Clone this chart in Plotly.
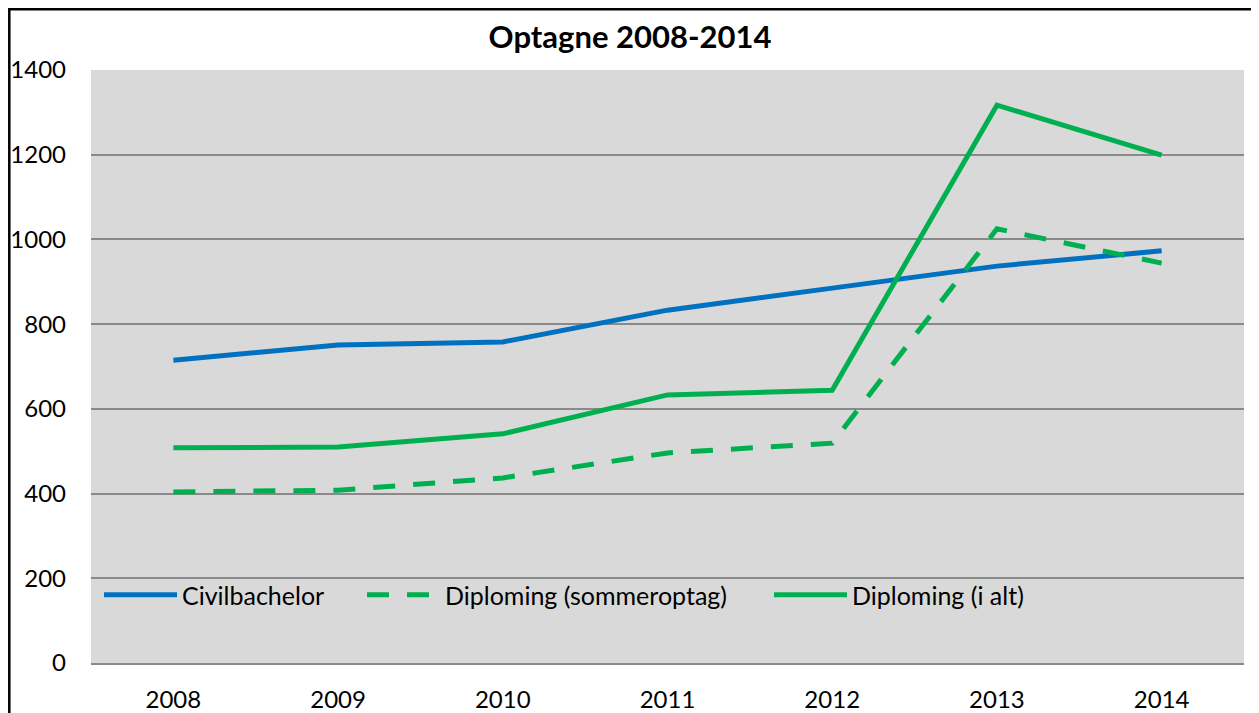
import plotly.graph_objects as go

years = ["2008", "2009", "2010", "2011", "2012", "2013", "2014"]
civilbachelor = [715, 751, 758, 833, 885, 937, 973]
diploming_sommer = [404, 408, 437, 496, 519, 1025, 944]
diploming_ialt = [508, 510, 541, 633, 644, 1317, 1199]
y_ticks = [0, 200, 400, 600, 800, 1000, 1200, 1400]

FONT = "Lato"
BLUE = "#0070C0"
GREEN = "#00B050"

# page offset (body margin)
OFF = 8
W, H = 1259 - OFF, 713 - OFF
# plot area in page pixels: left 91, right 1244, top 70, bottom 663
L = 91 - OFF
T = 70 - OFF
R = W - (1244 - OFF)
B = H - (663 - OFF)
pw, ph = W - L - R, H - T - B

def px_x(p):
    return (p - OFF - L) / pw

def px_y(p):
    return 1 - (p - OFF - T) / ph

fig = go.Figure()
fig.add_trace(go.Scatter(x=years, y=civilbachelor, name="Civilbachelor", mode="lines",
                         line=dict(color=BLUE, width=5), legend="legend"))
fig.add_trace(go.Scatter(x=years, y=diploming_sommer, name="Diploming (sommeroptag)", mode="lines",
                         line=dict(color=GREEN, width=5, dash="22px,18px"), legend="legend2"))
fig.add_trace(go.Scatter(x=years, y=diploming_ialt, name="Diploming (i alt)", mode="lines",
                         line=dict(color=GREEN, width=5), legend="legend3"))

def leg(sym_start):
    return dict(orientation="h", x=px_x(sym_start - 5), y=px_y(595), xanchor="left", yanchor="middle",
                bgcolor="rgba(0,0,0,0)", font=dict(family=FONT, size=25, color="black"),
                itemwidth=73)

fig.update_layout(
    width=W, height=H,
    margin=dict(l=L, r=R, t=T, b=B),
    paper_bgcolor="white",
    plot_bgcolor="#D9D9D9",
    font=dict(family=FONT, size=24, color="black"),
    title=dict(text="<b>Optagne 2008-2014</b>", x=(630 - OFF) / W, xanchor="center",
               y=1 - (37 - OFF) / H, yanchor="middle", font=dict(family=FONT, size=31, color="black")),
    showlegend=True,
    legend=leg(104),
    legend2=leg(367),
    legend3=leg(774),
    xaxis=dict(type="category", range=[-0.5, 6.5], showgrid=False, showline=True,
               linecolor="#898989", linewidth=2, ticks="", ticklabelstandoff=14,
               tickfont=dict(size=24), zeroline=False, automargin=False),
    yaxis=dict(range=[0, 1400], tickvals=y_ticks, showgrid=True, gridcolor="#898989", gridwidth=2,
               showline=False, ticks="", ticklabelstandoff=24, zeroline=False,
               tickfont=dict(size=24), automargin=False),
    shapes=[dict(type="rect", xref="paper", yref="paper", x0=px_x(9.3), x1=px_x(1300),
                 y0=px_y(760), y1=px_y(9.3), line=dict(color="black", width=2.5), layer="above")],
)

fig.write_html("out.html")
